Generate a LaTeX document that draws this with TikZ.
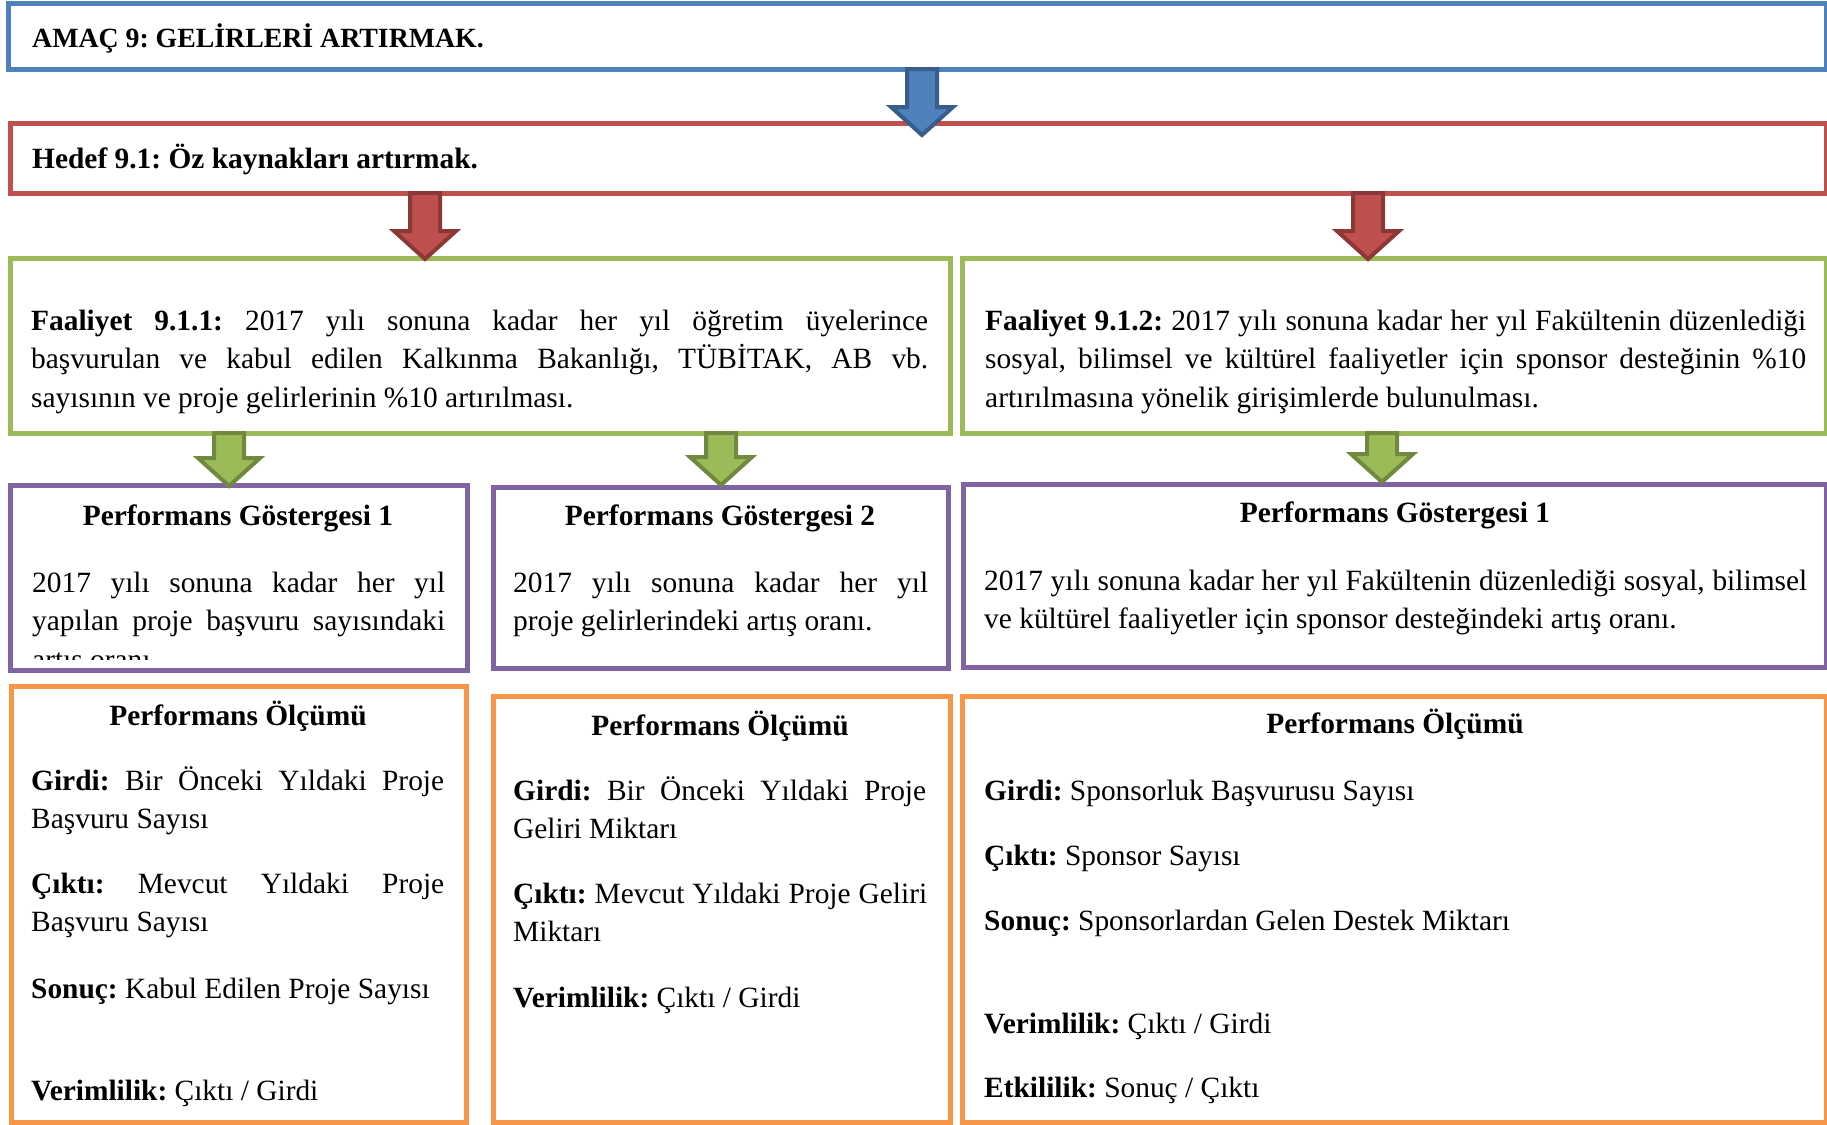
\documentclass[tikz,border=0pt]{standalone}
\usepackage{fontspec}
\setmainfont{Liberation Serif}
\usetikzlibrary{calc}

\definecolor{goalblue}{HTML}{4F81BD}
\definecolor{goalblueline}{HTML}{385D8A}
\definecolor{targetred}{HTML}{C0504D}
\definecolor{targetredline}{HTML}{8C3836}
\definecolor{actgreen}{HTML}{9BBB59}
\definecolor{actgreenline}{HTML}{71893F}
\definecolor{indpurple}{HTML}{8064A2}
\definecolor{measorange}{HTML}{F79646}

\hbadness=10000
\tolerance=10000
\frenchspacing

\newcommand\bodyfont{\frenchspacing\fontsize{29.4}{38.5}\selectfont}

\tikzset{
  panel/.style={line width=5pt, anchor=north west, inner sep=0pt, outer sep=0pt, fill=white},
  flowarrow/.style={line width=4pt, line join=miter},
  lbl/.style={anchor=base west, inner sep=0pt},
  para/.style={anchor=base west, inner sep=0pt, align=justify, text width=#1},
  head/.style={anchor=base, inner sep=0pt, font=\bodyfont\bfseries},
}

% framed box: #1 name, #2 colour, (#3,#4) top left corner, (#5,#6) bottom right corner
\newcommand\panelbox[6]{%
  \node[panel, draw=#2, minimum width={#5pt-#3pt}, minimum height={#6pt-#4pt}] (#1) at (#3,#4) {};}

% block arrow from the lower edge of #1 down to the upper edge of #2 at abscissa #3;
% #4 = how far the tip reaches past that edge, #5 fill, #6 outline
\newcommand\blockarrow[6]{%
  \draw[flowarrow, fill=#5, draw=#6]
    let \p1=(#3,0 |- #1.south), \p2=(#3,0 |- #2.north) in
    ({\x1-15pt},\y1) -- ({\x1-15pt},{\y2-(#4pt)+28pt}) -- ({\x1-31pt},{\y2-(#4pt)+28pt})
    -- (\x1,{\y2-(#4pt)}) -- ({\x1+31pt},{\y2-(#4pt)+28pt}) -- ({\x1+15pt},{\y2-(#4pt)+28pt})
    -- ({\x1+15pt},\y1) -- cycle;}

\begin{document}
\begin{tikzpicture}[x=1pt, y=-1pt, every node/.append style={font=\bodyfont}]
\fill[white] (0,0) rectangle (1827,1124);
\useasboundingbox (0,0) rectangle (1827,1124);

% frames
\panelbox{amac}{goalblue}{8}{4}{1826}{69}
\panelbox{hedef}{targetred}{10}{123}{1826}{193}
\panelbox{fa1}{actgreen}{10}{258}{950}{433}
\panelbox{fa2}{actgreen}{962}{258}{1826}{433}
\panelbox{pg1}{indpurple}{10}{485}{467}{670}
\panelbox{pg2}{indpurple}{493}{487}{948}{668}
\panelbox{pg3}{indpurple}{963}{484}{1826}{667}
\panelbox{pm1}{measorange}{11}{686}{466}{1122}
\panelbox{pm2}{measorange}{493}{696}{950}{1122}
\panelbox{pm3}{measorange}{962}{696}{1826}{1122}

% block arrows
\blockarrow{amac}{hedef}{922}{12}{goalblue}{goalblueline}
\blockarrow{hedef}{fa1}{425}{1}{targetred}{targetredline}
\blockarrow{hedef}{fa2}{1368}{1}{targetred}{targetredline}
\blockarrow{fa1}{pg1}{229}{1}{actgreen}{actgreenline}
\blockarrow{fa1}{pg2}{721}{-2}{actgreen}{actgreenline}
\blockarrow{fa2}{pg3}{1382}{-2}{actgreen}{actgreenline}

% goal and target
\node[lbl, font=\frenchspacing\fontsize{27.8}{34}\selectfont] (amac-t) at (32,48) {\textbf{AMAÇ 9: GELİRLERİ ARTIRMAK.}};
\node[lbl] (hedef-t) at (32,168) {\textbf{Hedef 9.1: Öz kaynakları artırmak.}};

% activities
\node[para=897pt] (fa1-t) at (31,330) {\textbf{Faaliyet 9.1.1:} 2017 yılı sonuna kadar her yıl öğretim üyelerince\linebreak
başvurulan ve kabul edilen Kalkınma Bakanlığı, TÜBİTAK, AB vb.\linebreak
sayısının ve proje gelirlerinin \%10 artırılması.};
\node[para=821pt] (fa2-t) at (985,330) {\textbf{Faaliyet 9.1.2:} 2017 yılı sonuna kadar her yıl Fakültenin düzenlediği\linebreak
sosyal, bilimsel ve kültürel faaliyetler için sponsor desteğinin \%10\linebreak
artırılmasına yönelik girişimlerde bulunulması.};

% performance indicators
\node[head] (pg1-h) at (238,525) {Performans Göstergesi 1};
\begin{scope}
  \clip (pg1.north west) rectangle ($(pg1.south east)+(0,-11)$);
  \node[para=413pt] (pg1-t) at (32,592) {2017 yılı sonuna kadar her yıl\linebreak
  yapılan proje başvuru sayısındaki\linebreak
  artış oranı.};
\end{scope}
\node[head] (pg2-h) at (720,525) {Performans Göstergesi 2};
\node[para=415pt] (pg2-t) at (513,592) {2017 yılı sonuna kadar her yıl\linebreak
proje gelirlerindeki artış oranı.};
\node[head] (pg3-h) at (1395,522) {Performans Göstergesi 1};
\node[para=823pt] (pg3-t) at (984,590) {2017 yılı sonuna kadar her yıl Fakültenin düzenlediği sosyal, bilimsel\linebreak
ve kültürel faaliyetler için sponsor desteğindeki artış oranı.};

% performance measurements, first column
\node[head] (pm1-h) at (238,725) {Performans Ölçümü};
\node[para=413pt] (pm1-a) at (31,790) {\textbf{Girdi:} Bir Önceki Yıldaki Proje\linebreak Başvuru Sayısı};
\node[para=413pt] (pm1-b) at (31,893) {\textbf{Çıktı:} Mevcut Yıldaki Proje\linebreak Başvuru Sayısı};
\node[lbl] (pm1-c) at (31,998) {\textbf{Sonuç:} Kabul Edilen Proje Sayısı};
\node[lbl] (pm1-d) at (31,1100) {\textbf{Verimlilik:} Çıktı / Girdi};

% second column
\node[head] (pm2-h) at (720,735) {Performans Ölçümü};
\node[para=413pt] (pm2-a) at (513,800) {\textbf{Girdi:} Bir Önceki Yıldaki Proje\linebreak Geliri Miktarı};
\node[para=414pt] (pm2-b) at (513,903) {\textbf{Çıktı:} Mevcut Yıldaki Proje Geliri\linebreak Miktarı};
\node[lbl] (pm2-c) at (513,1007) {\textbf{Verimlilik:} Çıktı / Girdi};

% third column
\node[head] (pm3-h) at (1395,733) {Performans Ölçümü};
\node[lbl] (pm3-a) at (984,800) {\textbf{Girdi:} Sponsorluk Başvurusu Sayısı};
\node[lbl] (pm3-b) at (984,865) {\textbf{Çıktı:} Sponsor Sayısı};
\node[lbl] (pm3-c) at (984,930) {\textbf{Sonuç:} Sponsorlardan Gelen Destek Miktarı};
\node[lbl] (pm3-d) at (984,1033) {\textbf{Verimlilik:} Çıktı / Girdi};
\node[lbl] (pm3-e) at (984,1097) {\textbf{Etkililik:} Sonuç / Çıktı};
\end{tikzpicture}
\end{document}
